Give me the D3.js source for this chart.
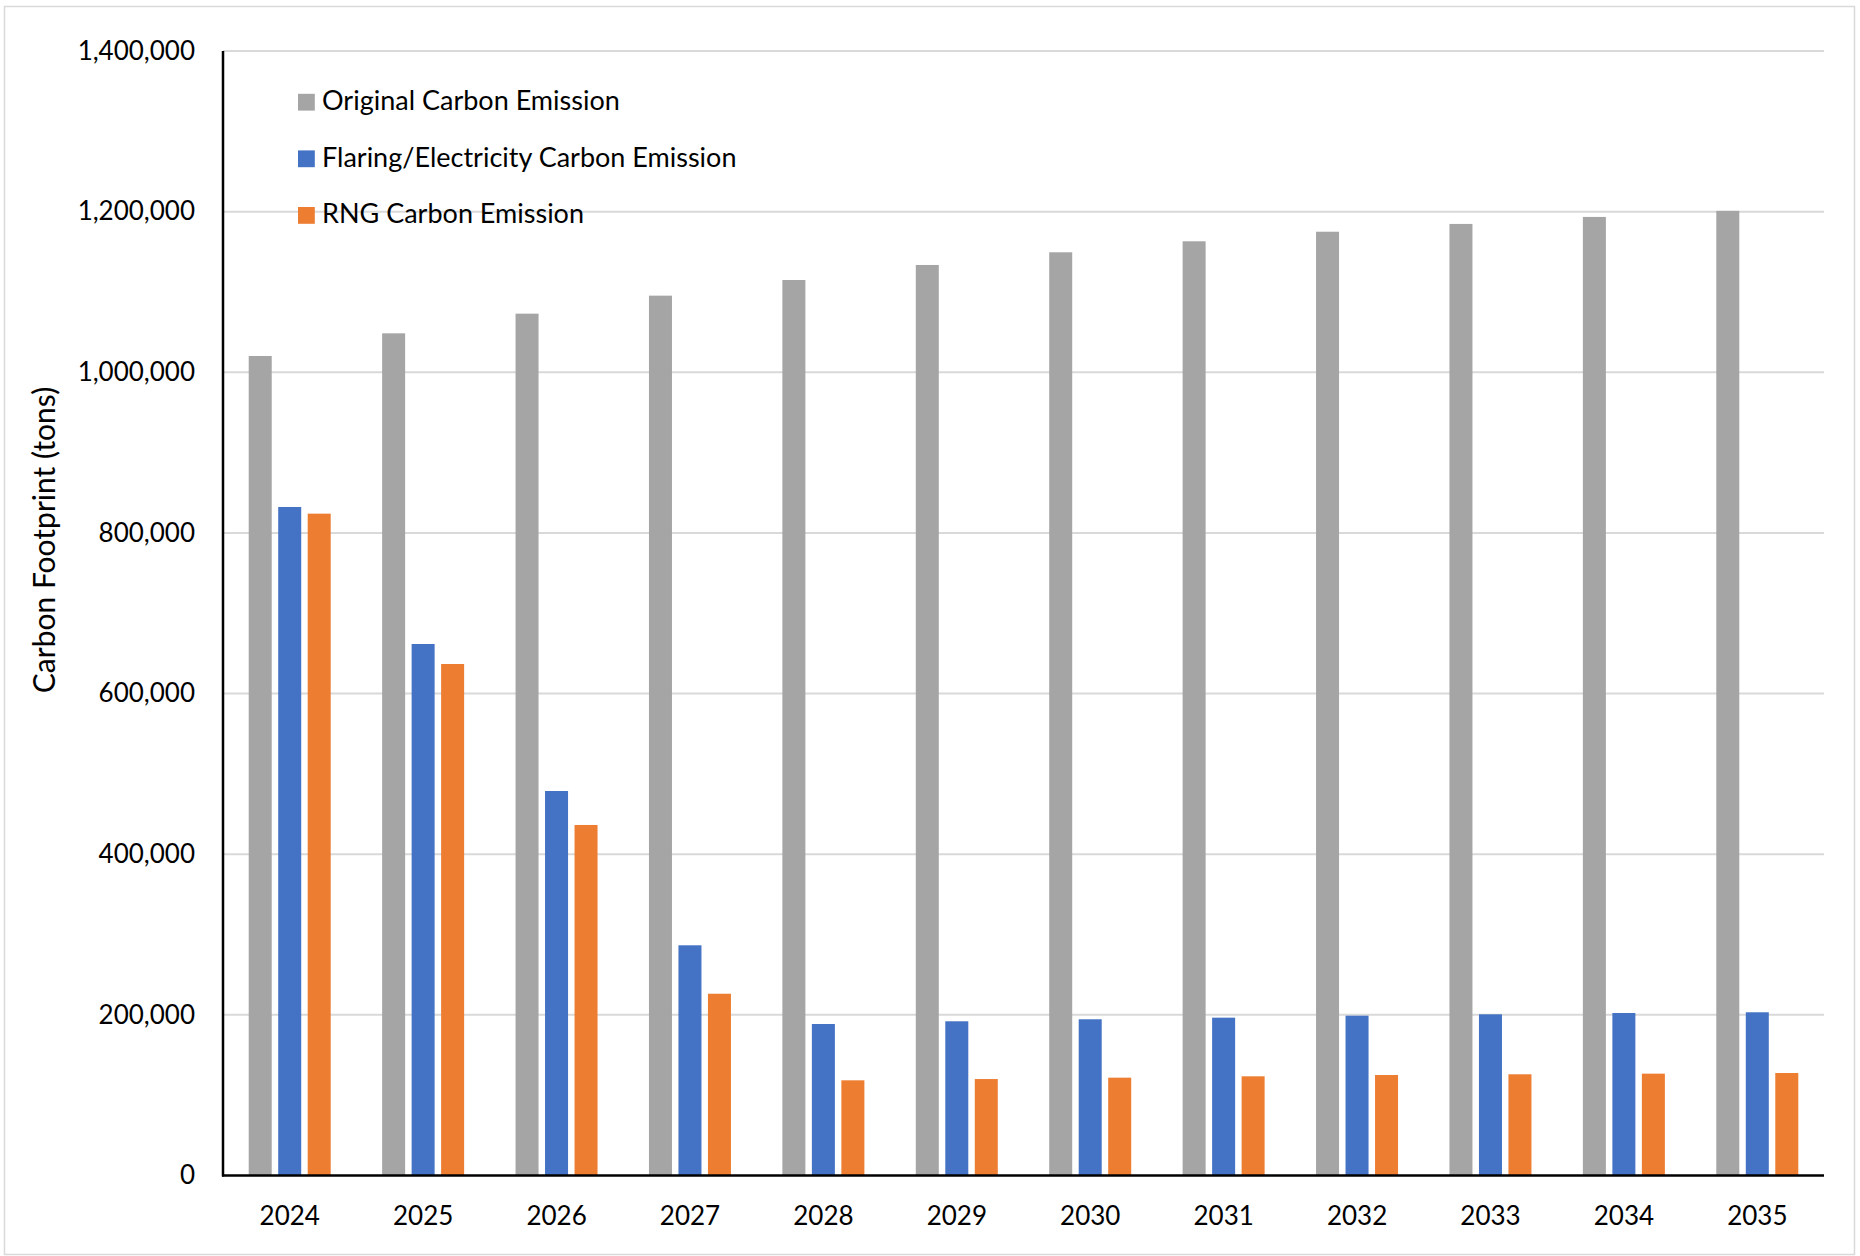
<!DOCTYPE html>
<html>
<head>
<meta charset="utf-8">
<script src="https://cdn.jsdelivr.net/npm/d3@7"></script>
<style>
  html, body { margin: 0; padding: 0; background: #ffffff; }
  svg { display: block; }
  text { font-family: Lato, "Open Sans", sans-serif; fill: #000; }
</style>
</head>
<body>
<svg id="chart" width="1860" height="1256"></svg>
<script>
// Yearly carbon footprint (tons) under three scenarios
const years = ["2024", "2025", "2026", "2027", "2028", "2029", "2030", "2031", "2032", "2033", "2034", "2035"];
const seriesNames = ["Original Carbon Emission", "Flaring/Electricity Carbon Emission", "RNG Carbon Emission"];
const seriesColors = ["#A5A5A5", "#4472C4", "#ED7D31"];
const originalEmission = [1020300, 1048500, 1073000, 1095400, 1114900, 1133600, 1149400, 1163100, 1175000, 1184700, 1193400, 1201000];
const flaringEmission = [832300, 661700, 478700, 286600, 188600, 192000, 194500, 196500, 199000, 200700, 202300, 203200];
const rngEmission = [824000, 636800, 436400, 226300, 118500, 120100, 121800, 123500, 125100, 126000, 126800, 127600];
const yTicks = [0, 200000, 400000, 600000, 800000, 1000000, 1200000, 1400000];
const yTitle = "Carbon Footprint (tons)";

const seriesValues = [originalEmission, flaringEmission, rngEmission];

const W = 1860, H = 1256;
const margin = { left: 223, right: 36, top: 51, bottom: 80.5 };
const plotRight = W - margin.right;
const plotBottom = H - margin.bottom;

const svg = d3.select("#chart");

// outer chart frame
svg.append("rect")
  .attr("x", 4.5).attr("y", 6.5)
  .attr("width", 1850).attr("height", 1248)
  .attr("fill", "none").attr("stroke", "#d9d9d9").attr("stroke-width", 1.5);

const x = d3.scaleBand().domain(years).range([margin.left, plotRight]).paddingInner(0).paddingOuter(0);
const y = d3.scaleLinear().domain([0, 1400000]).range([plotBottom, margin.top]);

// bars inside each year: narrow columns with a small gap
const groupWidth = x.bandwidth() * 0.6146;
const xs = d3.scaleBand().domain(d3.range(seriesNames.length))
  .range([-groupWidth / 2, groupWidth / 2]).paddingInner(0.22).paddingOuter(0);

// horizontal gridlines
svg.append("g")
  .selectAll("line")
  .data(yTicks.filter(t => t > 0))
  .join("line")
  .attr("x1", margin.left).attr("x2", plotRight)
  .attr("y1", d => y(d)).attr("y2", d => y(d))
  .attr("stroke", "#d9d9d9").attr("stroke-width", 2);

// bars
const bars = svg.append("g");
seriesValues.forEach((vals, si) => {
  bars.append("g")
    .selectAll("rect")
    .data(vals)
    .join("rect")
    .attr("x", (d, i) => x(years[i]) + x.bandwidth() / 2 + xs(si))
    .attr("width", xs.bandwidth())
    .attr("y", d => y(d))
    .attr("height", d => y(0) - y(d))
    .attr("fill", seriesColors[si]);
});

// y axis
const yAxis = svg.append("g")
  .attr("transform", `translate(${margin.left},0)`)
  .call(d3.axisLeft(y).tickValues(yTicks).tickFormat(d3.format(",")).tickSize(0).tickPadding(28));
yAxis.select(".domain").remove();
yAxis.selectAll("text").style("font-size", "26px").style("font-family", "Lato, sans-serif");

svg.append("line")
  .attr("x1", margin.left).attr("x2", margin.left)
  .attr("y1", margin.top).attr("y2", plotBottom + 1)
  .attr("stroke", "#000").attr("stroke-width", 2.5);

// x axis
const xAxis = svg.append("g")
  .attr("transform", `translate(0,${plotBottom})`)
  .call(d3.axisBottom(x).tickSize(0).tickPadding(31));
xAxis.select(".domain").remove();
xAxis.selectAll("text").style("font-size", "26px").style("font-family", "Lato, sans-serif");

svg.append("line")
  .attr("x1", margin.left - 1).attr("x2", plotRight)
  .attr("y1", plotBottom).attr("y2", plotBottom)
  .attr("stroke", "#000").attr("stroke-width", 2.5);

// y axis title
svg.append("text")
  .attr("transform", `translate(43,540) rotate(-90)`)
  .attr("text-anchor", "middle")
  .attr("dominant-baseline", "central")
  .style("font-size", "30px")
  .text(yTitle);

// legend
const legend = svg.append("g").attr("transform", "translate(298,0)");
const legendRows = legend.selectAll("g")
  .data(seriesNames)
  .join("g")
  .attr("transform", (d, i) => `translate(0,${102.2 + i * 56.6})`);
legendRows.append("rect")
  .attr("x", 0).attr("y", -8.4)
  .attr("width", 16.8).attr("height", 16.8)
  .attr("fill", (d, i) => seriesColors[i]);
legendRows.append("text")
  .attr("x", 24).attr("y", 8)
  .style("font-size", "27px")
  .text(d => d);
</script>
</body>
</html>
